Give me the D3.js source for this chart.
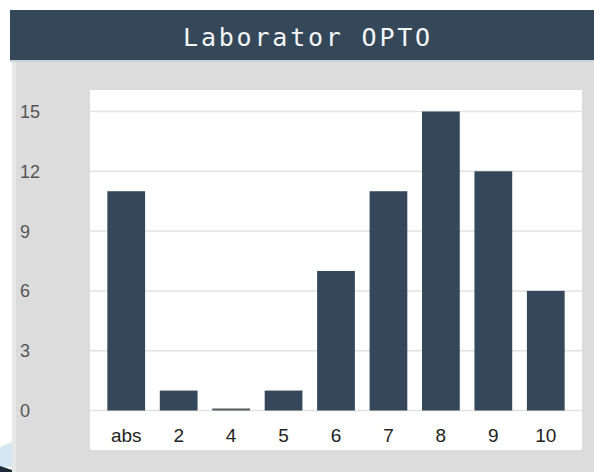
<!DOCTYPE html>
<html>
<head>
<meta charset="utf-8">
<script src="https://cdn.jsdelivr.net/npm/d3@7"></script>
<style>
  body { margin: 0; background: #fff; }
  svg { display: block; }
</style>
</head>
<body>
<div id="chart"></div>
<script>
// data
var title = "Laborator OPTO";
var categories = ["abs", "2", "4", "5", "6", "7", "8", "9", "10"];
var counts = [11, 1, 0, 1, 7, 11, 15, 12, 6];
var yTicks = [0, 3, 6, 9, 12, 15];

var width = 594,
    height = 472;

var svg = d3.select("#chart").append("svg")
    .attr("width", width)
    .attr("height", height);

// corner decoration bottom-left
svg.append("path")
    .attr("d", "M0,447L12,442L12,467L0,467Z")
    .attr("fill", "#d5e7f0");
svg.append("path")
    .attr("d", "M0,466L12,470L12,472L0,472Z")
    .attr("fill", "#1c2a36");

/* header */
svg.append("rect")
    .attr("x", 10).attr("y", 10)
    .attr("width", width - 10).attr("height", 50)
    .attr("fill", "#35485a");
svg.append("text")
    .attr("x", 308).attr("y", 46)
    .attr("text-anchor", "middle")
    .attr("fill", "#f4f6f8")
    .style("font-family", "'DejaVu Sans Mono', monospace")
    .style("font-size", "25px")
    .style("letter-spacing", "2.8px")
    .text(title);
svg.append("rect")
    .attr("x", 10).attr("y", 60)
    .attr("width", width - 10).attr("height", 2)
    .attr("fill", "#c8d4dc");

// grey panel
svg.append("rect")
    .attr("x", 12).attr("y", 62)
    .attr("width", width - 12).attr("height", height - 62)
    .attr("fill", "#dcdcdc");
svg.append("rect")
    .attr("x", 12).attr("y", 62)
    .attr("width", 4).attr("height", height - 62)
    .attr("fill", "#e8e8e8");

// white plot area
var plot = { left: 90, top: 90, right: 582, bottom: 450 };
svg.append("rect")
    .attr("x", plot.left).attr("y", plot.top)
    .attr("width", plot.right - plot.left)
    .attr("height", plot.bottom - plot.top)
    .attr("fill", "#ffffff");

var x = d3.scaleBand()
    .domain(categories)
    .range([100, 572])
    .paddingInner(0.28)
    .paddingOuter(0.14);

var y = d3.scaleLinear()
    .domain([0, 15])
    .range([410.5, 111.5]);

// gridlines
svg.append("g").selectAll("line")
    .data(yTicks)
    .enter().append("line")
    .attr("x1", plot.left).attr("x2", plot.right)
    .attr("y1", function(d) { return y(d); })
    .attr("y2", function(d) { return y(d); })
    .attr("stroke", "#e2e2e2")
    .attr("stroke-width", 1.5);

// y labels
svg.append("g").selectAll("text")
    .data(yTicks)
    .enter().append("text")
    .attr("x", 20)
    .attr("y", function(d) { return y(d); })
    .attr("dy", "0.36em")
    .attr("fill", "#555")
    .style("font-family", "'Liberation Sans', Arial, sans-serif")
    .style("font-size", "18px")
    .text(function(d) { return d; });

// bars
svg.append("g").selectAll("rect")
    .data(counts)
    .enter().append("rect")
    .attr("x", function(d, i) { return x(categories[i]); })
    .attr("width", x.bandwidth())
    .attr("y", function(d) { return Math.min(y(d), y(0) - 2); })
    .attr("height", function(d) { return Math.max(y(0) - y(d), 2); })
    .attr("fill", function(d) { return d === 0 ? "#555b60" : "#35485a"; });

// x labels
svg.append("g").selectAll("text")
    .data(categories)
    .enter().append("text")
    .attr("x", function(d) { return x(d) + x.bandwidth() / 2; })
    .attr("y", 442)
    .attr("text-anchor", "middle")
    .attr("fill", "#222")
    .style("font-family", "'Liberation Sans', Arial, sans-serif")
    .style("font-size", "19px")
    .text(function(d) { return d; });
</script>
</body>
</html>
